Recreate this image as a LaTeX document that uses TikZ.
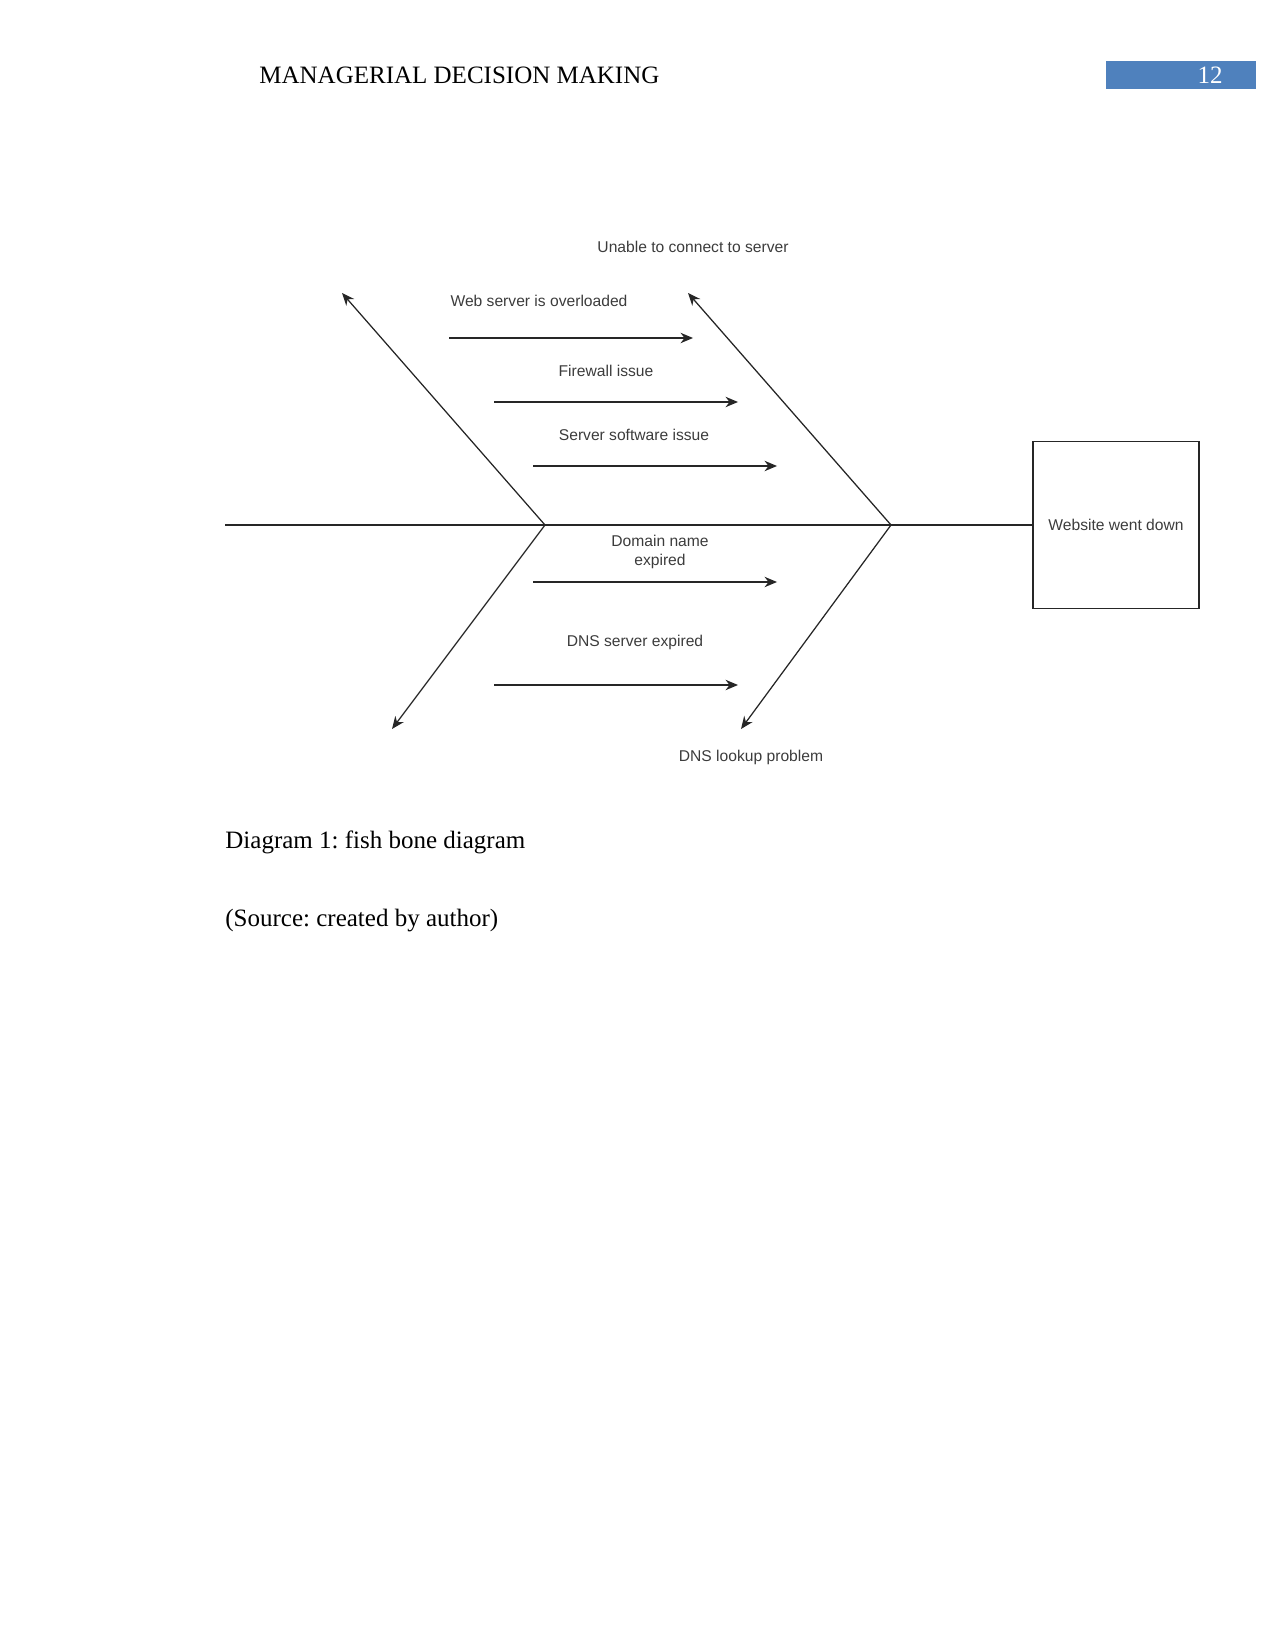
\documentclass[tikz,border=0pt]{standalone}
\usepackage{fontspec}
\setmainfont{Liberation Serif}
\newfontfamily\diagfont{Liberation Sans}
\usepackage{tikz}
\usetikzlibrary{arrows.meta}
\frenchspacing
\definecolor{headblue}{RGB}{79,129,189}
\definecolor{labelgray}{RGB}{60,60,60}
\tikzset{
  bone/.style={line width=0.6pt,black!85},
  cause/.style={font=\diagfont\fontsize{7.5}{9}\selectfont,text=labelgray,inner sep=1pt,align=center},
  effectbox/.style={draw,line width=0.6pt,black!85,minimum width=79.7pt,minimum height=80.2pt,
    font=\diagfont\fontsize{7.5}{9}\selectfont,text=labelgray},
  pagetext/.style={font=\fontsize{12}{14}\selectfont,inner sep=0pt,anchor=base west}
}

\begin{document}
\begin{tikzpicture}[x=0.48pt,y=-0.48pt,>={Stealth[length=6pt,width=5pt]}]
\useasboundingbox (0,0) rectangle (1275,1650);
% header
\fill[headblue] (1106,61) rectangle (1256,89);
\node[pagetext] (head) at (259,84) {MANAGERIAL DECISION MAKING};
\node[pagetext,anchor=base,text=white] (pnum) at (1210,84) {12};
% head of the fish
\node[effectbox] (effect) at (1116,525) {Website went down};
\coordinate (tail) at (225,525);
\coordinate (J1) at (545,525);
\coordinate (J2) at (891,525);
\coordinate (U1) at (342,293);
\coordinate (L1) at (392,729);
\coordinate (U2) at (688,293);
\coordinate (L2) at (741,729);
\draw[bone] (tail)--(effect.west);
\draw[bone,->] (J1)--(U1);
\draw[bone,->] (J1)--(L1);
\draw[bone,->] (J2)--(U2);
\draw[bone,->] (J2)--(L2);
\node[cause] (unable) at (693,247) {Unable to connect to server};
\node[cause] (dns) at (751,757) {DNS lookup problem};
% causes
\foreach \nm/\xa/\xb/\y in {a1/449/693/338,a2/494/738/402,a3/533/777/466,a4/533/777/582,a5/494/738/685}{
  \coordinate (\nm s) at (\xa,\y);
  \coordinate (\nm e) at (\xb,\y);
  \draw[bone,->] (\nm s)--(\nm e);
}
\node[cause] (web) at (539,301) {Web server is overloaded};
\node[cause] (fire) at (606,371) {Firewall issue};
\node[cause] (soft) at (634,435) {Server software issue};
\node[cause] (domain) at (660,552) {Domain name\\expired};
\node[cause] (dnsexp) at (635,642) {DNS server expired};
% caption
\node[pagetext] (cap) at (225,848) {Diagram 1: fish bone diagram};
\node[pagetext] (src) at (225,926) {(Source: created by author)};
\end{tikzpicture}
\end{document}
